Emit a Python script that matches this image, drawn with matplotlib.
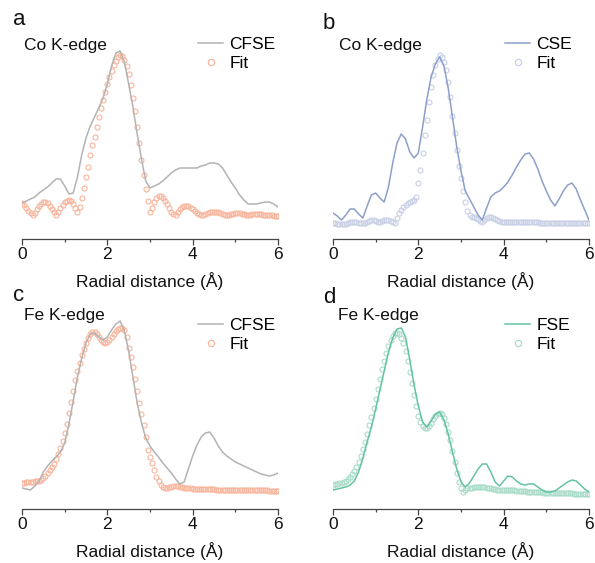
import numpy as np
import matplotlib
matplotlib.use("Agg")
import matplotlib.pyplot as plt
from matplotlib.lines import Line2D
from matplotlib.ticker import MultipleLocator

plt.rcParams['font.family'] = ['Liberation Sans', 'DejaVu Sans']

# ---------------- data ----------------
r_line = np.linspace(0, 6, 61)    # Radial distance grid for the measured curves (Å)
r_fit = np.linspace(0, 6, 121)    # Radial distance grid for the fit points (Å)

# panel a: Co K-edge, CFSE
a_line = [36, 38, 40, 42, 46, 49, 52, 56, 60, 60,
          53, 45, 46, 62, 84, 101, 113, 122, 131, 141,
          155, 173, 186, 188, 177, 155, 132, 105, 80, 58,
          51, 53, 55, 58, 62, 66, 69, 71, 71, 71,
          71, 71, 73, 74, 76, 76, 75, 71, 64, 57,
          51, 44, 39, 35, 35, 35, 36, 37, 37, 35,
          32]
a_fit = [36, 34, 31, 28, 26, 24, 26, 30, 33, 35,
         37, 37, 36, 33, 30, 27, 24, 27, 31, 34,
         37, 38, 39, 38, 35, 31, 27, 32, 41, 51,
         62, 72, 84, 94, 102, 112, 122, 131, 139, 147,
         155, 162, 168, 174, 178, 182, 184, 183, 179, 173,
         165, 154, 141, 128, 112, 96, 79, 64, 50, 38,
         27, 31, 37, 41, 43, 43, 41, 38, 35, 31,
         27, 25, 24, 27, 30, 32, 33, 33, 33, 31,
         30, 28, 26, 25, 24, 24, 25, 26, 27, 27,
         27, 27, 27, 26, 25, 24, 24, 24, 25, 25,
         26, 26, 26, 25, 25, 24, 24, 24, 25, 25,
         25, 25, 25, 24, 24, 24, 24, 24, 23, 23,
         23]

# panel b: Co K-edge, CSE
b_line = [26, 23, 19, 24, 30, 30, 25, 21, 33, 44,
          46, 41, 37, 52, 76, 96, 105, 100, 87, 81,
          86, 112, 140, 162, 175, 182, 173, 151, 122, 92,
          68, 48, 40, 32, 24, 19, 31, 42, 46, 48,
          52, 57, 64, 72, 79, 85, 86, 80, 70, 58,
          48, 39, 33, 40, 48, 54, 56, 50, 39, 29,
          19]
b_fit = [16, 16, 15, 15, 15, 15, 15, 16, 17, 17,
         17, 17, 16, 16, 16, 16, 17, 18, 19, 19,
         18, 17, 17, 18, 19, 19, 19, 18, 17, 16,
         21, 26, 29, 32, 34, 36, 37, 38, 39, 42,
         56, 69, 86, 104, 119, 137, 152, 164, 174, 180,
         184, 182, 177, 169, 157, 142, 123, 106, 89, 73,
         61, 48, 37, 28, 24, 22, 22, 21, 20, 18,
         17, 19, 21, 22, 22, 21, 20, 19, 18, 17,
         17, 17, 17, 17, 17, 17, 17, 17, 17, 17,
         17, 17, 17, 17, 17, 17, 17, 16, 16, 16,
         16, 16, 16, 16, 16, 16, 16, 16, 16, 16,
         16, 16, 16, 16, 16, 16, 16, 16, 16, 16,
         16]

# panel c: Fe K-edge, CFSE
c_line = [21, 20, 19, 23, 28, 37, 43, 48, 52, 57,
          66, 85, 108, 132, 151, 166, 175, 176, 172, 169,
          172, 179, 185, 188, 178, 158, 132, 106, 86, 71,
          63, 57, 52, 46, 41, 36, 30, 25, 27, 40,
          53, 64, 72, 76, 77, 71, 63, 57, 53, 50,
          47, 45, 43, 41, 39, 37, 35, 34, 33, 34,
          36]
c_fit = [26, 26, 27, 27, 27, 27, 28, 28, 28, 29,
         31, 33, 36, 39, 42, 45, 50, 55, 61, 68,
         76, 85, 96, 107, 118, 129, 138, 146, 154, 160,
         166, 171, 175, 177, 177, 175, 172, 169, 167, 166,
         167, 169, 172, 175, 178, 180, 181, 181, 179, 172,
         161, 152, 142, 130, 118, 106, 95, 84, 72, 59,
         52, 46, 39, 32, 28, 24, 22, 21, 21, 22,
         22, 23, 23, 23, 22, 22, 21, 21, 21, 21,
         20, 20, 20, 20, 20, 20, 20, 20, 20, 20,
         20, 19, 19, 19, 19, 19, 19, 19, 19, 19,
         19, 19, 19, 19, 19, 19, 19, 19, 19, 19,
         19, 19, 19, 19, 19, 19, 18, 18, 18, 18,
         18]

# panel d: Fe K-edge, FSE
d_line = [19, 20, 21, 22, 24, 28, 37, 51, 67, 82,
          100, 119, 138, 157, 171, 180, 181, 172, 149, 124,
          103, 87, 82, 88, 95, 97, 89, 75, 57, 40,
          27, 22, 26, 33, 40, 45, 45, 37, 27, 23,
          28, 33, 32, 28, 25, 24, 25, 25, 22, 19,
          17, 17, 18, 21, 24, 27, 29, 28, 24, 20,
          17]
d_fit = [24, 25, 25, 26, 26, 27, 28, 30, 32, 35,
         38, 42, 47, 53, 60, 67, 75, 84, 92, 101,
         110, 120, 130, 140, 148, 156, 163, 169, 173, 176,
         176, 175, 171, 166, 158, 148, 137, 126, 114, 103,
         93, 87, 83, 81, 81, 83, 86, 90, 93, 95,
         96, 95, 91, 85, 77, 69, 58, 47, 36, 27,
         21, 17, 19, 21, 21, 21, 22, 22, 22, 22,
         22, 22, 21, 21, 21, 20, 20, 19, 19, 19,
         19, 19, 19, 19, 19, 19, 18, 18, 18, 18,
         18, 17, 17, 17, 17, 17, 17, 17, 17, 16,
         16, 16, 16, 16, 16, 16, 16, 16, 16, 16,
         16, 16, 16, 15, 15, 15, 15, 15, 15, 15,
         15]

panel_letters = ["a", "b", "c", "d"]
edge_labels = ["Co K-edge", "Co K-edge", "Fe K-edge", "Fe K-edge"]
sample_names = ["CFSE", "CSE", "CFSE", "FSE"]
fit_name = "Fit"
x_label = "Radial distance (Å)"
x_ticks = [0, 2, 4, 6]

lines = [a_line, b_line, c_line, d_line]
fits = [a_fit, b_fit, c_fit, d_fit]
line_colors = ["#b3b3b3", "#8da0cb", "#b3b3b3", "#66c2a5"]
fit_colors = ["#f9b59c", "#c9d0e6", "#f9b59c", "#a9dcc8"]

# ---------------- layout (pixel based) ----------------
W, H = 595, 563
fig = plt.figure(figsize=(W / 100, H / 100), dpi=100)

# (left px, axis-bottom px)
pos = [(22, 239), (333, 239), (22, 509), (333, 509)]
ax_w, ax_h = 256, 209
letter_pos = [(13, 25), (323, 29), (13, 301), (323, 303)]
edge_pos = [(24, 50), (339, 50), (24, 320), (338, 320)]
leg_pos = [(198, 37), (505, 37), (198, 318), (505, 318)]

def fx(px):
    return px / W

def fy(py):
    return 1 - py / H

for i in range(4):
    lx, by = pos[i]
    ax = fig.add_axes([fx(lx), fy(by), ax_w / W, ax_h / H])
    ax.plot(r_fit, fits[i], linestyle="none", marker="o", markersize=3.6,
            markerfacecolor="none", markeredgecolor=fit_colors[i],
            markeredgewidth=0.8, zorder=2)
    ax.plot(r_line, lines[i], color=line_colors[i], lw=1.1, zorder=3)
    ax.set_xlim(0, 6)
    ax.set_ylim(0, ax_h)
    for s in ["top", "left", "right"]:
        ax.spines[s].set_visible(False)
    ax.spines["bottom"].set_color("#444444")
    ax.spines["bottom"].set_linewidth(0.9)
    ax.set_yticks([])
    ax.set_xticks(x_ticks)
    ax.xaxis.set_minor_locator(MultipleLocator(1))
    ax.tick_params(axis="x", which="major", length=4.5, width=0.9,
                   color="#444444", labelsize=12.5, pad=1.5, labelcolor="#111111")
    ax.tick_params(axis="x", which="minor", length=2.5, width=0.9, color="#444444")
    ax.set_xlabel(x_label, fontsize=12.5, labelpad=7, color="#111111")
    ax.patch.set_alpha(0)

    handles = [Line2D([], [], color=line_colors[i], lw=1.1),
               Line2D([], [], linestyle="none", marker="o", markersize=4.5,
                      markerfacecolor="none", markeredgecolor=fit_colors[i],
                      markeredgewidth=0.9)]
    gx, gy = leg_pos[i]
    ax.legend(handles, [sample_names[i], fit_name], loc="upper left",
              bbox_to_anchor=(fx(gx), fy(gy)), bbox_transform=fig.transFigure,
              frameon=False, fontsize=12.5, borderpad=0, borderaxespad=0,
              handlelength=1.45, handletextpad=0.35, labelspacing=0.2)

    tx, ty = letter_pos[i]
    fig.text(fx(tx), fy(ty), panel_letters[i], fontsize=16, va="baseline",
             ha="left", color="#111111")
    ex, ey = edge_pos[i]
    fig.text(fx(ex), fy(ey), edge_labels[i], fontsize=12.5, va="baseline",
             ha="left", color="#111111")

fig.savefig("out.png", dpi=100)
